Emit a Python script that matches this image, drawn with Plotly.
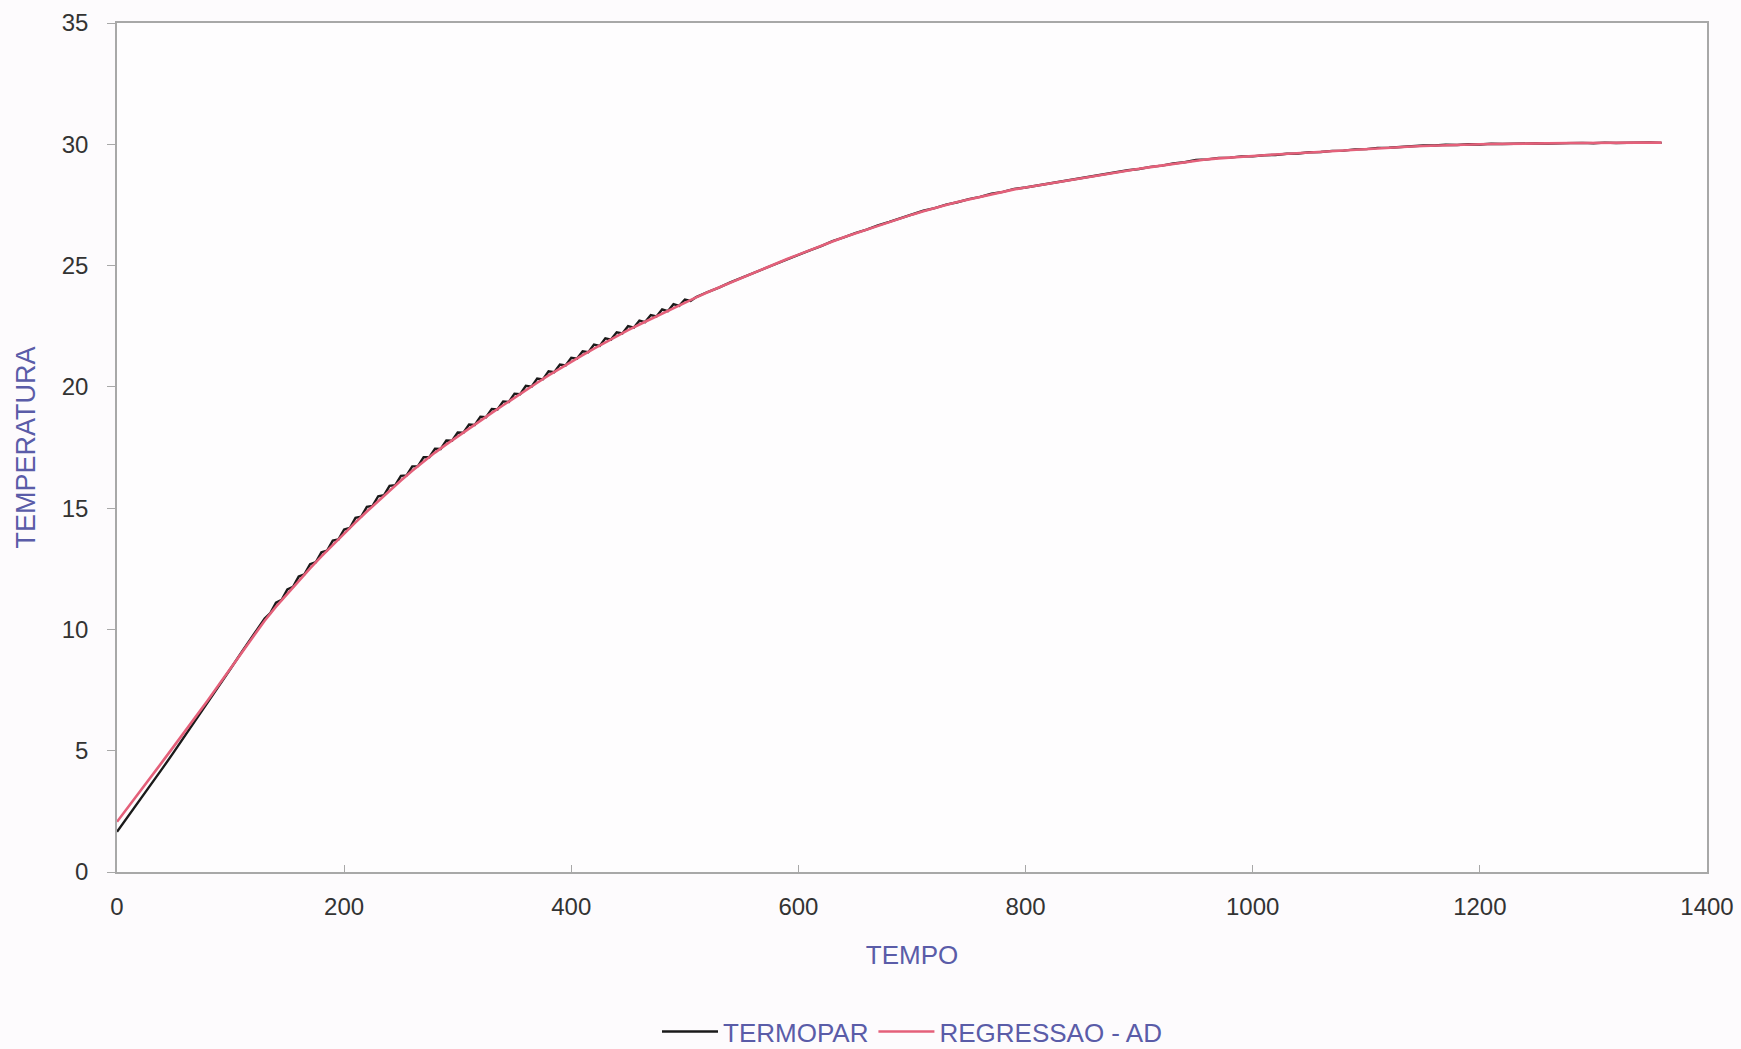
import plotly.graph_objects as go

# Sample times (s) for the thermocouple reading: coarse at start/end, finer in the middle
tempo_termopar = list(range(0, 131, 10)) + list(range(135, 506, 5)) + list(range(510, 1361, 10))

temp_termopar = [
    # 0 .. 130
    1.66, 2.30, 2.95, 3.60, 4.27, 4.94, 5.62, 6.30, 6.98, 7.68, 8.38, 9.08, 9.78, 10.45,
    # 135 .. 505 (step 5)
    10.67, 11.10, 11.22, 11.65, 11.76, 12.18, 12.27, 12.69, 12.77, 13.18,
    13.25, 13.66, 13.71, 14.12, 14.18, 14.60, 14.65, 15.05, 15.09, 15.49,
    15.53, 15.92, 15.95, 16.33, 16.35, 16.72, 16.73, 17.10, 17.10, 17.45,
    17.44, 17.79, 17.78, 18.12, 18.11, 18.45, 18.43, 18.77, 18.75, 19.09,
    19.07, 19.40, 19.38, 19.72, 19.70, 20.04, 20.01, 20.34, 20.31, 20.64,
    20.60, 20.92, 20.88, 21.20, 21.16, 21.47, 21.43, 21.74, 21.69, 22.00,
    21.95, 22.25, 22.20, 22.50, 22.44, 22.73, 22.67, 22.96, 22.90, 23.19,
    23.12, 23.41, 23.34, 23.60, 23.54,
    # 510 .. 1360
    23.70, 23.91, 24.09, 24.31, 24.50, 24.71, 24.90, 25.08, 25.28, 25.45,
    25.63, 25.80, 26.01, 26.16, 26.34, 26.48, 26.66, 26.80, 26.96, 27.10,
    27.26, 27.37, 27.51, 27.61, 27.74, 27.83, 27.96, 28.04, 28.16, 28.22,
    28.30, 28.35, 28.45, 28.51, 28.61, 28.67, 28.77, 28.83, 28.93, 28.98,
    29.07, 29.12, 29.21, 29.26, 29.35, 29.38, 29.44, 29.45, 29.50, 29.50,
    29.55, 29.56, 29.61, 29.62, 29.67, 29.68, 29.73, 29.74, 29.79, 29.80,
    29.85, 29.86, 29.90, 29.91, 29.95, 29.95, 29.98, 29.97, 30.00, 29.99,
    30.02, 30.01, 30.03, 30.02, 30.04, 30.03, 30.05, 30.04, 30.06, 30.04,
    30.07, 30.05, 30.07, 30.06, 30.08, 30.06,
]

# Fitted regression curve, one value every 10 s
tempo_regressao = list(range(0, 1361, 10))

temp_regressao = [
    2.07, 2.68, 3.30, 3.92, 4.55, 5.18, 5.80, 6.44, 7.08, 7.74,
    8.40, 9.06, 9.72, 10.36, 10.94, 11.48, 12.01, 12.52, 13.01, 13.49,
    13.95, 14.41, 14.86, 15.30, 15.73, 16.14, 16.54, 16.93, 17.29, 17.63,
    17.96, 18.29, 18.61, 18.93, 19.24, 19.56, 19.87, 20.17, 20.47, 20.76,
    21.04, 21.31, 21.58, 21.84, 22.09, 22.34, 22.57, 22.80, 23.03, 23.25,
    23.47, 23.69, 23.90, 24.10, 24.30, 24.50, 24.70, 24.90, 25.09, 25.27,
    25.45, 25.62, 25.81, 25.99, 26.17, 26.33, 26.49, 26.65, 26.80, 26.95,
    27.10, 27.24, 27.38, 27.50, 27.62, 27.73, 27.84, 27.95, 28.05, 28.14,
    28.22, 28.30, 28.37, 28.44, 28.52, 28.60, 28.68, 28.76, 28.84, 28.92,
    28.99, 29.06, 29.13, 29.20, 29.26, 29.32, 29.38, 29.42, 29.46, 29.49,
    29.52, 29.55, 29.58, 29.61, 29.64, 29.67, 29.70, 29.73, 29.75, 29.78,
    29.81, 29.84, 29.86, 29.89, 29.91, 29.93, 29.95, 29.96, 29.98, 29.99,
    30.00, 30.01, 30.02, 30.02, 30.03, 30.04, 30.04, 30.05, 30.05, 30.05,
    30.06, 30.06, 30.06, 30.06, 30.07, 30.07, 30.07,
]

x_ticks = [0, 200, 400, 600, 800, 1000, 1200, 1400]
y_ticks = [0, 5, 10, 15, 20, 25, 30, 35]

FONT = "Liberation Sans, Arial, sans-serif"
TITLE_BLUE = "#5a5ca8"
AXIS_GREY = "#a8a8a8"
TICK_TXT = "#333333"

fig = go.Figure()
fig.add_trace(go.Scatter(
    x=tempo_termopar, y=temp_termopar, mode="lines", name="TERMOPAR",
    line=dict(color="#1a1a1a", width=2.4),
))
fig.add_trace(go.Scatter(
    x=tempo_regressao, y=temp_regressao, mode="lines", name="REGRESSAO - AD",
    line=dict(color="#e4607a", width=2.6),
))

fig.update_layout(
    width=1741, height=1049,
    margin=dict(l=117, r=34, t=23, b=177, autoexpand=False),
    paper_bgcolor="#fdfbfd", plot_bgcolor="#fefdfe",
    font=dict(family=FONT, size=24, color=TICK_TXT),
    showlegend=True,
    legend=dict(
        orientation="h", x=0.5, xanchor="center", y=-0.188, yanchor="middle",
        font=dict(family=FONT, size=26, color=TITLE_BLUE),
        itemwidth=56, tracegroupgap=0, bgcolor="rgba(0,0,0,0)",
    ),
    xaxis=dict(
        range=[0, 1400], tickvals=x_ticks, ticks="inside", ticklen=7,
        tickcolor=AXIS_GREY, showline=True, linecolor=AXIS_GREY, linewidth=1.5,
        mirror=True, showgrid=False, zeroline=False, ticklabelstandoff=12,
        automargin=False,
        tickfont=dict(family=FONT, size=24, color=TICK_TXT),
        title=dict(text="TEMPO", font=dict(family=FONT, size=26, color=TITLE_BLUE), standoff=27),
    ),
    yaxis=dict(
        range=[0, 35], tickvals=y_ticks, ticks="outside", ticklen=8,
        tickcolor=AXIS_GREY, showline=True, linecolor=AXIS_GREY, linewidth=1.5,
        mirror=True, showgrid=False, zeroline=False, ticklabelstandoff=14,
        automargin=False,
        tickfont=dict(family=FONT, size=24, color=TICK_TXT),
        title=dict(text="TEMPERATURA", font=dict(family=FONT, size=27, color=TITLE_BLUE), standoff=18),
    ),
)

fig.write_html("out.html")
